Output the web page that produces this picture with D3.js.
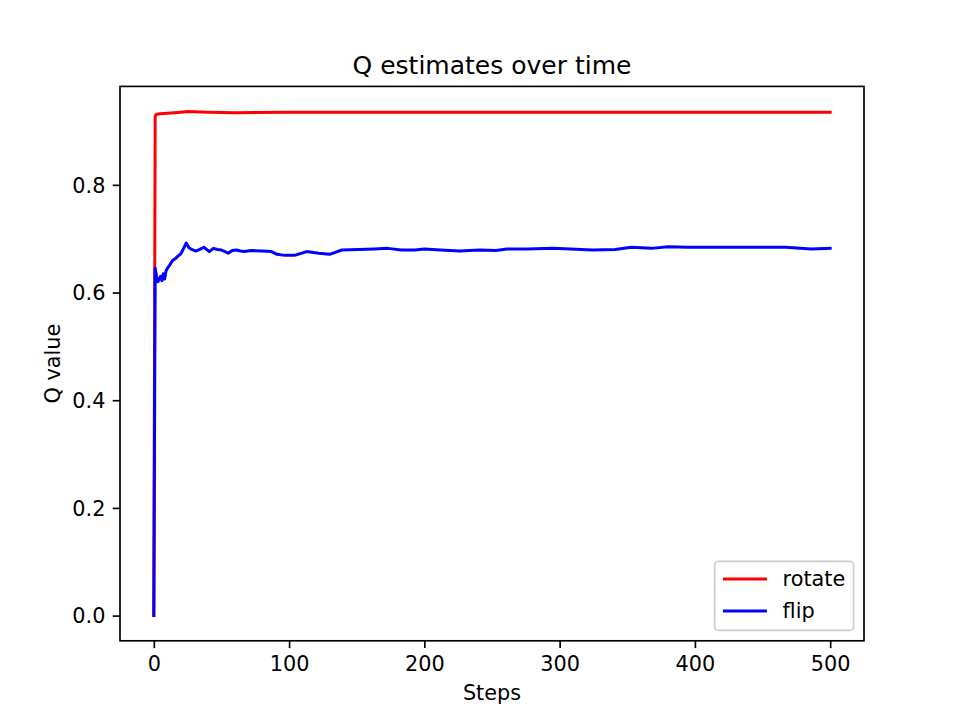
<!DOCTYPE html>
<html>
<head>
<meta charset="utf-8">
<script src="https://cdn.jsdelivr.net/npm/d3@7"></script>
<style>
  body { margin: 0; background: #fff; }
  svg { display: block; font-family: "DejaVu Sans", sans-serif; }
  .axis path, .axis line { stroke: #000; stroke-width: 1.67; }
  .axis text { fill: #000; font-size: 20.8px; font-family: "DejaVu Sans", sans-serif; }
</style>
</head>
<body>
<div id="chart"></div>
<script>
// Q estimates (step, value)
const rotateSteps  = [0, 1, 2, 5, 10, 20, 25, 40, 60, 100, 200, 300, 400, 500];
const rotateValues = [0, 0.928, 0.931, 0.932, 0.933, 0.935, 0.936, 0.935, 0.934, 0.935, 0.935, 0.935, 0.935, 0.935];

const flipSteps  = [0, 1, 2, 3, 4, 5, 6, 7, 8, 9, 10, 12, 14, 16, 18, 20, 22, 24, 26, 28, 31, 34, 37, 39, 41, 44, 47, 50,
                    55, 58, 61, 64, 67, 72, 80, 87, 91, 97, 104, 113, 122, 130, 139, 151, 163, 173, 183, 193, 200,
                    212, 226, 241, 253, 261, 276, 295, 308, 324, 341, 353, 368, 380, 395, 415, 437, 467, 486, 500];
const flipValues = [0, 0.645, 0.63, 0.62, 0.625, 0.63, 0.622, 0.635, 0.625, 0.64, 0.645, 0.652, 0.66, 0.663, 0.668, 0.672, 0.682, 0.692, 0.683, 0.680, 0.677, 0.680, 0.684, 0.680, 0.676, 0.682, 0.680, 0.679,
                    0.673, 0.678, 0.679, 0.677, 0.676, 0.678, 0.677, 0.676, 0.671, 0.669, 0.669, 0.676, 0.673, 0.671, 0.679, 0.680, 0.681, 0.682, 0.679, 0.679, 0.681,
                    0.679, 0.677, 0.679, 0.678, 0.681, 0.681, 0.682, 0.681, 0.679, 0.680, 0.684, 0.682, 0.685, 0.684, 0.684, 0.684, 0.684, 0.681, 0.682];

const seriesNames  = ["rotate", "flip"];
const seriesColors = ["#ff0000", "#0000ff"];
const xTicks = [0, 100, 200, 300, 400, 500];
const yTicks = [0.0, 0.2, 0.4, 0.6, 0.8];

const series = [
    { name: seriesNames[0], color: seriesColors[0], pts: rotateSteps.map((s, i) => [s, rotateValues[i]]) },
    { name: seriesNames[1], color: seriesColors[1], pts: flipSteps.map((s, i) => [s, flipValues[i]]) }
];

const W = 960, H = 720;
const margin = { top: 86.4, right: 96, bottom: 79.2, left: 120 };
const width = W - margin.left - margin.right;
const height = H - margin.top - margin.bottom;

// matplotlib style 5% padding
const allPts = series.flatMap(s => s.pts);
const xExt = d3.extent(allPts, d => d[0]);
const yExt = d3.extent(allPts, d => d[1]);
const xPad = (xExt[1] - xExt[0]) * 0.05;
const yPad = (yExt[1] - yExt[0]) * 0.05;

const xScale = d3.scaleLinear().domain([xExt[0] - xPad, xExt[1] + xPad]).range([0, width]);
const yScale = d3.scaleLinear().domain([yExt[0] - yPad, yExt[1] + yPad]).range([height, 0]);

const svg = d3.select("#chart").append("svg")
    .attr("width", W)
    .attr("height", H);

const plot = svg.append("g")
    .attr("transform", `translate(${margin.left},${margin.top})`);

// lines
const line = d3.line()
    .x(d => xScale(d[0]))
    .y(d => yScale(d[1]));

plot.selectAll(".series")
    .data(series)
    .enter().append("path")
    .attr("class", "series")
    .attr("d", d => line(d.pts))
    .attr("fill", "none")
    .attr("stroke", d => d.color)
    .attr("stroke-width", 3)
    .attr("stroke-linejoin", "round")
    .attr("stroke-linecap", "square");

// axes
const xAxis = d3.axisBottom(xScale)
    .tickValues(xTicks)
    .tickFormat(d3.format("d"))
    .tickSizeInner(7.3)
    .tickSizeOuter(0)
    .tickPadding(7);

const yAxis = d3.axisLeft(yScale)
    .tickValues(yTicks)
    .tickFormat(d3.format(".1f"))
    .tickSizeInner(7.3)
    .tickSizeOuter(0)
    .tickPadding(7.3);

plot.append("g")
    .attr("class", "axis x-axis")
    .attr("transform", `translate(0,${height})`)
    .call(xAxis)
    .call(g => g.select(".domain").remove())
    .selectAll("text")
    .attr("dy", "0.76em");

plot.append("g")
    .attr("class", "axis y-axis")
    .call(yAxis)
    .call(g => g.select(".domain").remove())
    .selectAll("text")
    .attr("dy", "0.35em");

// frame
plot.append("rect")
    .attr("x", 0)
    .attr("y", 0)
    .attr("width", width)
    .attr("height", height)
    .attr("fill", "none")
    .attr("stroke", "#000")
    .attr("stroke-width", 1.67);

// labels
svg.append("text")
    .attr("x", margin.left + width / 2)
    .attr("y", 74)
    .attr("text-anchor", "middle")
    .style("font-size", "25px")
    .text("Q estimates over time");

svg.append("text")
    .attr("x", margin.left + width / 2)
    .attr("y", 700)
    .attr("text-anchor", "middle")
    .style("font-size", "20.8px")
    .text("Steps");

svg.append("text")
    .attr("transform", `translate(60,${margin.top + height / 2}) rotate(-90)`)
    .attr("text-anchor", "middle")
    .style("font-size", "20.8px")
    .text("Q value");

// legend, lower right
const legW = 139, legH = 69;
const leg = plot.append("g")
    .attr("transform", `translate(${width - 10.4 - legW},${height - 10.4 - legH})`);

leg.append("rect")
    .attr("width", legW)
    .attr("height", legH)
    .attr("rx", 4)
    .attr("fill", "#fff")
    .attr("fill-opacity", 0.8)
    .attr("stroke", "#cccccc")
    .attr("stroke-width", 1.67);

const items = leg.selectAll(".leg-item")
    .data(series)
    .enter().append("g")
    .attr("class", "leg-item")
    .attr("transform", (d, i) => `translate(0,${17.5 + i * 32})`);

items.append("line")
    .attr("x1", 8.3)
    .attr("x2", 8.3 + 44)
    .attr("stroke", d => d.color)
    .attr("stroke-width", 3);

items.append("text")
    .attr("x", 68)
    .attr("dy", "0.35em")
    .style("font-size", "20.8px")
    .text(d => d.name);
</script>
</body>
</html>
